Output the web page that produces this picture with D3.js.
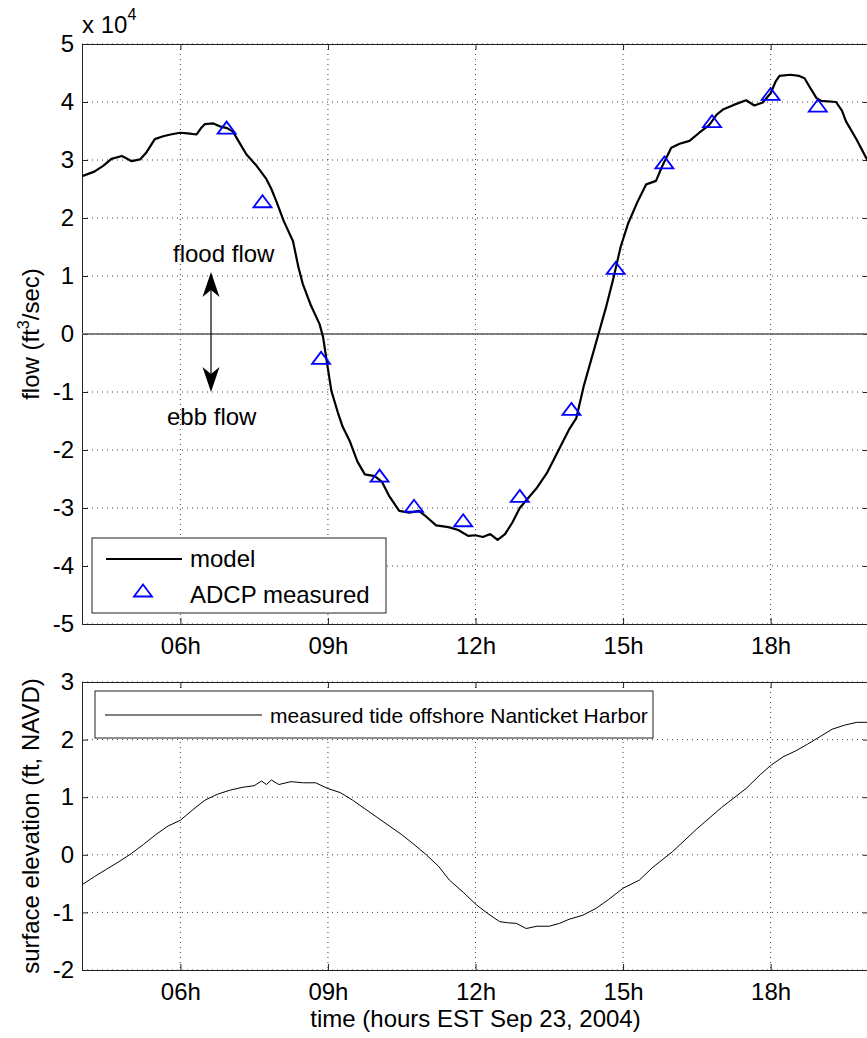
<!DOCTYPE html>
<html>
<head>
<meta charset="utf-8">
<script src="https://cdn.jsdelivr.net/npm/d3@7"></script>
<style>
  html, body { margin: 0; padding: 0; background: #fff; }
  svg { display: block; font-family: "Liberation Sans", Arial, sans-serif; }
</style>
</head>
<body>
<svg id="chart" width="867" height="1038"></svg>
<script>
// Modelled flow through the harbour entrance (ft^3/sec), hours EST
const modelHours = [4.00,4.25,4.43,4.60,4.81,4.90,5.01,5.18,5.30,5.48,5.65,5.80,5.99,6.15,6.33,6.42,6.50,6.67,6.80,6.95,
  7.07,7.20,7.34,7.55,7.75,7.85,7.95,8.10,8.29,8.40,8.49,8.65,8.83,8.90,9.00,9.07,9.20,9.30,9.44,9.60,
  9.75,9.95,10.10,10.25,10.45,10.65,10.85,11.00,11.20,11.45,11.65,11.85,12.00,12.15,12.30,12.45,12.60,12.75,12.90,13.05,
  13.25,13.45,13.60,13.75,13.90,14.05,14.20,14.35,14.50,14.65,14.80,14.95,15.10,15.30,15.47,15.67,15.80,15.98,16.15,16.35,
  16.55,16.75,16.90,17.03,17.25,17.50,17.67,17.84,18.00,18.10,18.18,18.40,18.58,18.69,18.80,18.93,19.03,19.33,19.45,19.53,
  19.75,19.94,20.00];
const modelFlow = [27200,28000,29000,30200,30700,30300,29800,30100,31200,33600,34100,34400,34700,34600,34400,35500,36200,36300,35800,35500,
  34900,33000,31000,29000,26700,25000,22900,19500,16000,11500,8600,5000,1700,-500,-6000,-9800,-13500,-16000,-18400,-22000,
  -24200,-24500,-25500,-28000,-30500,-30800,-30500,-31500,-33000,-33300,-33800,-34800,-34700,-35000,-34500,-35500,-34500,-32500,-30000,-28500,
  -26500,-24000,-21500,-19000,-16500,-14500,-9000,-4500,0,4500,9500,15000,19000,22900,25800,26400,29000,32100,32800,33300,
  34700,36000,37800,38700,39500,40300,39400,39900,41500,43500,44500,44700,44500,44100,42500,40700,40200,40000,38500,36700,
  33500,30400,29500];

// ADCP transect measurements
const adcpHours = [6.94,7.67,8.86,10.05,10.75,11.75,12.90,13.95,14.85,15.84,16.81,18.00,18.96];
const adcpFlow = [35500,22800,-4200,-24500,-29700,-32200,-28000,-13000,11300,29500,36600,41300,39300];

// Measured tide offshore (ft, NAVD)
const tideHours = [4.0,4.25,4.5,4.75,5.0,5.25,5.5,5.75,6.0,6.25,6.5,6.75,7.0,7.25,7.5,7.65,7.75,7.85,8.0,8.25,
  8.5,8.75,9.0,9.25,9.5,9.75,10.0,10.25,10.5,10.75,11.0,11.25,11.47,11.75,12.02,12.25,12.49,12.65,12.83,13.03,
  13.25,13.5,13.71,13.9,14.18,14.45,14.7,15.0,15.33,15.6,16.0,16.5,17.0,17.5,17.8,18.0,18.25,18.5,18.75,19.0,
  19.25,19.5,19.75,20.0];
const tideLevel = [-0.52,-0.38,-0.25,-0.12,0.02,0.18,0.35,0.5,0.6,0.78,0.95,1.05,1.12,1.17,1.2,1.28,1.22,1.3,1.22,1.27,
  1.25,1.25,1.15,1.08,0.95,0.8,0.65,0.5,0.35,0.18,0.0,-0.2,-0.44,-0.65,-0.87,-1.02,-1.16,-1.18,-1.19,-1.28,
  -1.24,-1.24,-1.19,-1.12,-1.05,-0.93,-0.78,-0.58,-0.44,-0.22,0.05,0.45,0.82,1.15,1.4,1.55,1.7,1.8,1.92,2.05,
  2.18,2.25,2.3,2.3];

// Axis ticks
const hourTicks = [6, 9, 12, 15, 18];
const hourLabels = ["06h", "09h", "12h", "15h", "18h"];
const flowTicks = [-50000,-40000,-30000,-20000,-10000,0,10000,20000,30000,40000,50000];
const flowLabels = ["-5","-4","-3","-2","-1","0","1","2","3","4","5"];
const tideTicks = [-2,-1,0,1,2,3];
const tideLabels = ["-2","-1","0","1","2","3"];

const svg = d3.select("#chart");
const FONT = 24;

const left = 82, right = 869;
const topPanel = { y0: 44, y1: 624 };
const botPanel = { y0: 682, y1: 970 };

const x = d3.scaleLinear().domain([4, 20]).range([left, right]);
const yFlow = d3.scaleLinear().domain([-50000, 50000]).range([topPanel.y1, topPanel.y0]);
const yTide = d3.scaleLinear().domain([-2, 3]).range([botPanel.y1, botPanel.y0]);

function panel(y, ticks, labels, p, id) {
  const g = svg.append("g");
  // clip region
  svg.append("clipPath").attr("id", id).append("rect")
    .attr("x", left).attr("y", p.y0).attr("width", right - left).attr("height", p.y1 - p.y0);

  // dotted grid
  const grid = g.append("g").attr("stroke", "#000").attr("stroke-width", 1)
    .attr("stroke-dasharray", "1,4").attr("opacity", 0.75);
  hourTicks.forEach(h => grid.append("line")
    .attr("x1", x(h)).attr("x2", x(h)).attr("y1", p.y0).attr("y2", p.y1));
  ticks.forEach(t => grid.append("line")
    .attr("x1", left).attr("x2", right).attr("y1", y(t)).attr("y2", y(t)));

  // axes with inward ticks
  const fmtX = d => hourLabels[hourTicks.indexOf(d)];
  const fmtY = d => labels[ticks.indexOf(d)];
  const bottom = g.append("g").attr("transform", `translate(0,${p.y1})`)
    .call(d3.axisBottom(x).tickValues(hourTicks).tickFormat(fmtX).tickSize(-6).tickPadding(13));
  const topAx = g.append("g").attr("transform", `translate(0,${p.y0})`)
    .call(d3.axisTop(x).tickValues(hourTicks).tickFormat("").tickSize(-6));
  const leftAx = g.append("g").attr("transform", `translate(${left},0)`)
    .call(d3.axisLeft(y).tickValues(ticks).tickFormat(fmtY).tickSize(-6).tickPadding(8));
  const rightAx = g.append("g").attr("transform", `translate(${right},0)`)
    .call(d3.axisRight(y).tickValues(ticks).tickFormat("").tickSize(-6));
  [bottom, topAx, leftAx, rightAx].forEach(a => {
    a.selectAll("path.domain").attr("stroke", "#222");
    a.selectAll(".tick line").attr("stroke", "#222");
    a.selectAll("text").attr("font-size", FONT).attr("fill", "#000")
      .attr("font-family", "Liberation Sans, Arial, sans-serif");
  });
  return g;
}

// ---------- top panel: flow ----------
const gTop = panel(yFlow, flowTicks, flowLabels, topPanel, "clipTop");

// zero-flow reference line
gTop.append("line")
  .attr("x1", left).attr("x2", right)
  .attr("y1", yFlow(0)).attr("y2", yFlow(0))
  .attr("stroke", "#5a5a5a").attr("stroke-width", 1.5);

const modelLine = d3.line().x((d, i) => x(modelHours[i])).y(d => yFlow(d));
gTop.append("path").datum(modelFlow)
  .attr("clip-path", "url(#clipTop)")
  .attr("d", modelLine)
  .attr("fill", "none").attr("stroke", "#000").attr("stroke-width", 2.2)
  .attr("stroke-linejoin", "round");

const tri = "M0,-6.5L9,5.5L-9,5.5Z";
gTop.append("g").selectAll("path").data(adcpFlow).join("path")
  .attr("transform", (d, i) => `translate(${x(adcpHours[i])},${yFlow(d)})`)
  .attr("d", tri).attr("fill", "none").attr("stroke", "#0000ff").attr("stroke-width", 1.8);

// exponent label
const expo = svg.append("text").attr("x", left).attr("y", 33).attr("font-size", FONT);
expo.append("tspan").text("x 10");
expo.append("tspan").attr("dy", -13).attr("font-size", 16).text("4");

// y label
const yl1 = svg.append("text")
  .attr("transform", `translate(39,${(topPanel.y0 + topPanel.y1) / 2}) rotate(-90)`)
  .attr("text-anchor", "middle").attr("font-size", FONT);
yl1.append("tspan").text("flow (ft");
yl1.append("tspan").attr("dy", -10).attr("font-size", 16).text("3");
yl1.append("tspan").attr("dy", 10).text("/sec)");

// flood / ebb annotation
const arrowX = 211, arrowTop = 272, arrowBot = 392;
svg.append("line").attr("x1", arrowX).attr("x2", arrowX)
  .attr("y1", arrowTop + 10).attr("y2", arrowBot - 10)
  .attr("stroke", "#000").attr("stroke-width", 1.2);
svg.append("path")
  .attr("d", `M${arrowX},${arrowTop}L${arrowX + 8.5},${arrowTop + 25}L${arrowX},${arrowTop + 18}L${arrowX - 8.5},${arrowTop + 25}Z`)
  .attr("fill", "#000");
svg.append("path")
  .attr("d", `M${arrowX},${arrowBot}L${arrowX + 8.5},${arrowBot - 25}L${arrowX},${arrowBot - 18}L${arrowX - 8.5},${arrowBot - 25}Z`)
  .attr("fill", "#000");
svg.append("text").attr("x", 173).attr("y", 262).attr("font-size", FONT).text("flood flow");
svg.append("text").attr("x", 167).attr("y", 425).attr("font-size", FONT).text("ebb flow");

// legend (top)
const lg1 = svg.append("g");
lg1.append("rect").attr("x", 92).attr("y", 538).attr("width", 294).attr("height", 75)
  .attr("fill", "#fff").attr("stroke", "#222").attr("stroke-width", 1);
lg1.append("line").attr("x1", 106).attr("x2", 182).attr("y1", 559).attr("y2", 559)
  .attr("stroke", "#000").attr("stroke-width", 2.2);
lg1.append("text").attr("x", 190).attr("y", 567).attr("font-size", FONT).text("model");
lg1.append("path").attr("transform", "translate(143,591)").attr("d", tri)
  .attr("fill", "none").attr("stroke", "#0000ff").attr("stroke-width", 1.8);
lg1.append("text").attr("x", 190).attr("y", 603).attr("font-size", FONT).text("ADCP measured");

// ---------- bottom panel: tide ----------
const gBot = panel(yTide, tideTicks, tideLabels, botPanel, "clipBot");
const tideLine = d3.line().x((d, i) => x(tideHours[i])).y(d => yTide(d));
gBot.append("path").datum(tideLevel)
  .attr("clip-path", "url(#clipBot)")
  .attr("d", tideLine)
  .attr("fill", "none").attr("stroke", "#000").attr("stroke-width", 1);

const lg2 = svg.append("g");
lg2.append("rect").attr("x", 95).attr("y", 691).attr("width", 558).attr("height", 47)
  .attr("fill", "#fff").attr("stroke", "#222").attr("stroke-width", 1);
lg2.append("line").attr("x1", 105).attr("x2", 262).attr("y1", 715).attr("y2", 715)
  .attr("stroke", "#000").attr("stroke-width", 1);
lg2.append("text").attr("x", 270).attr("y", 723).attr("font-size", 21)
  .text("measured tide offshore Nanticket Harbor");

svg.append("text")
  .attr("transform", `translate(39,${(botPanel.y0 + botPanel.y1) / 2}) rotate(-90)`)
  .attr("text-anchor", "middle").attr("font-size", FONT)
  .text("surface elevation (ft, NAVD)");

svg.append("text").attr("x", (left + right) / 2).attr("y", 1027)
  .attr("text-anchor", "middle").attr("font-size", FONT)
  .text("time (hours EST Sep 23, 2004)");
</script>
</body>
</html>
